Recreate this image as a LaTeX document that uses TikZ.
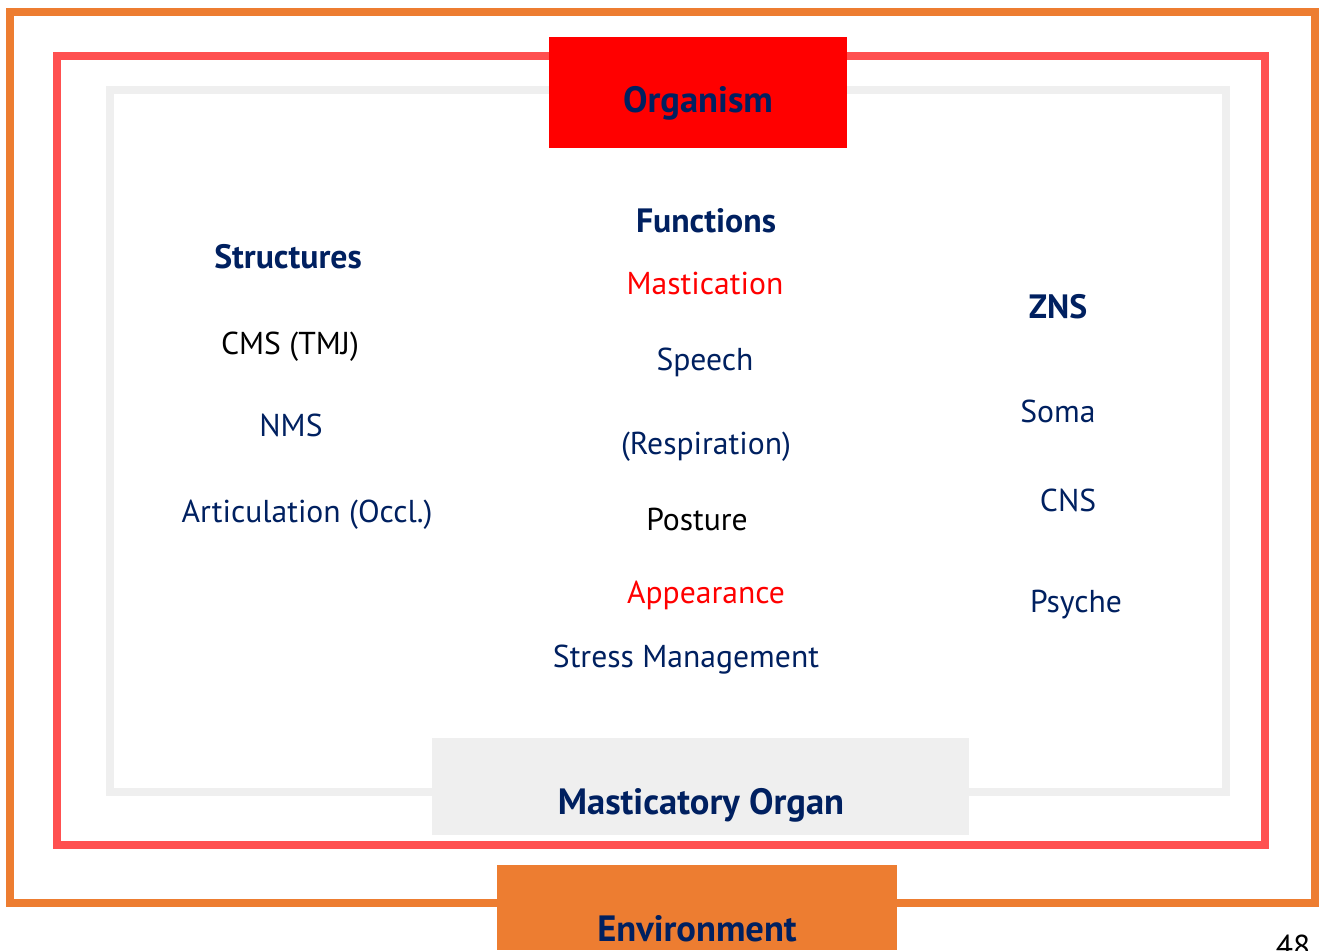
\documentclass[tikz,border=0pt]{standalone}
\usepackage{fontspec}
\setmainfont{PT Sans}
\definecolor{navy}{HTML}{002060}
\definecolor{envorange}{HTML}{ED7D31}
\definecolor{orgred}{HTML}{FF0000}
\definecolor{framered}{HTML}{FF5050}
\definecolor{framegray}{HTML}{EFEFEF}
\tikzset{
	frame/.style={line width=0.08cm},
	headbox/.style={inner sep=0pt, font=\fontsize{10.4}{12}\selectfont\bfseries, text=navy},
	colhead/.style={font=\fontsize{9.6}{11}\selectfont\bfseries, text=navy},
	item/.style={font=\fontsize{9}{11}\selectfont, text=navy}
}
\begin{document}
\begin{tikzpicture}[x=0.01cm, y=-0.01cm]
		\useasboundingbox (0, 0) rectangle (1319, 950);

		% frames
		\draw[frame, envorange] (10, 12) rectangle (1315, 903);
		\draw[frame, framered] (57, 56) rectangle (1265, 845);
		\draw[frame, framegray] (110, 90) rectangle (1226, 792);

		% boxes
		\fill[orgred] (549, 37) rectangle (847, 148);
		\fill[framegray] (432, 738) rectangle (969, 835);
		\fill[envorange] (497, 865) rectangle (897, 950);

		\node[headbox] (organism) at (698, 103) {Organism};
		\node[headbox] (organ) at (701, 805) {Masticatory Organ};
		\node[headbox] (environment) at (697, 929) {Environment};

		% structures
		\node[colhead] (structures) at (288, 257) {Structures};
		\node[item, text=black] (cms) at (290, 347) {CMS (TMJ)};
		\node[item] (nms) at (291, 425) {NMS};
		\node[item] (articulation) at (307, 515) {Articulation (Occl.)};

		% functions
		\node[colhead] (functions) at (706, 221) {Functions};
		\node[item, text=orgred] (mastication) at (705, 283) {Mastication};
		\node[item] (speech) at (705, 362) {Speech};
		\node[item] (respiration) at (706, 447) {(Respiration)};
		\node[item, text=black] (posture) at (697, 519) {Posture};
		\node[item, text=orgred] (appearance) at (706, 595) {Appearance};
		\node[item] (stress) at (686, 660) {Stress Management};

		% ZNS
		\node[colhead] (zns) at (1058, 307) {ZNS};
		\node[item] (soma) at (1058, 411) {Soma};
		\node[item] (cns) at (1068, 500) {CNS};
		\node[item] (psyche) at (1076, 605) {Psyche};

		\node[item, text=black] (page) at (1293, 946) {48};
	\end{tikzpicture}
\end{document}
